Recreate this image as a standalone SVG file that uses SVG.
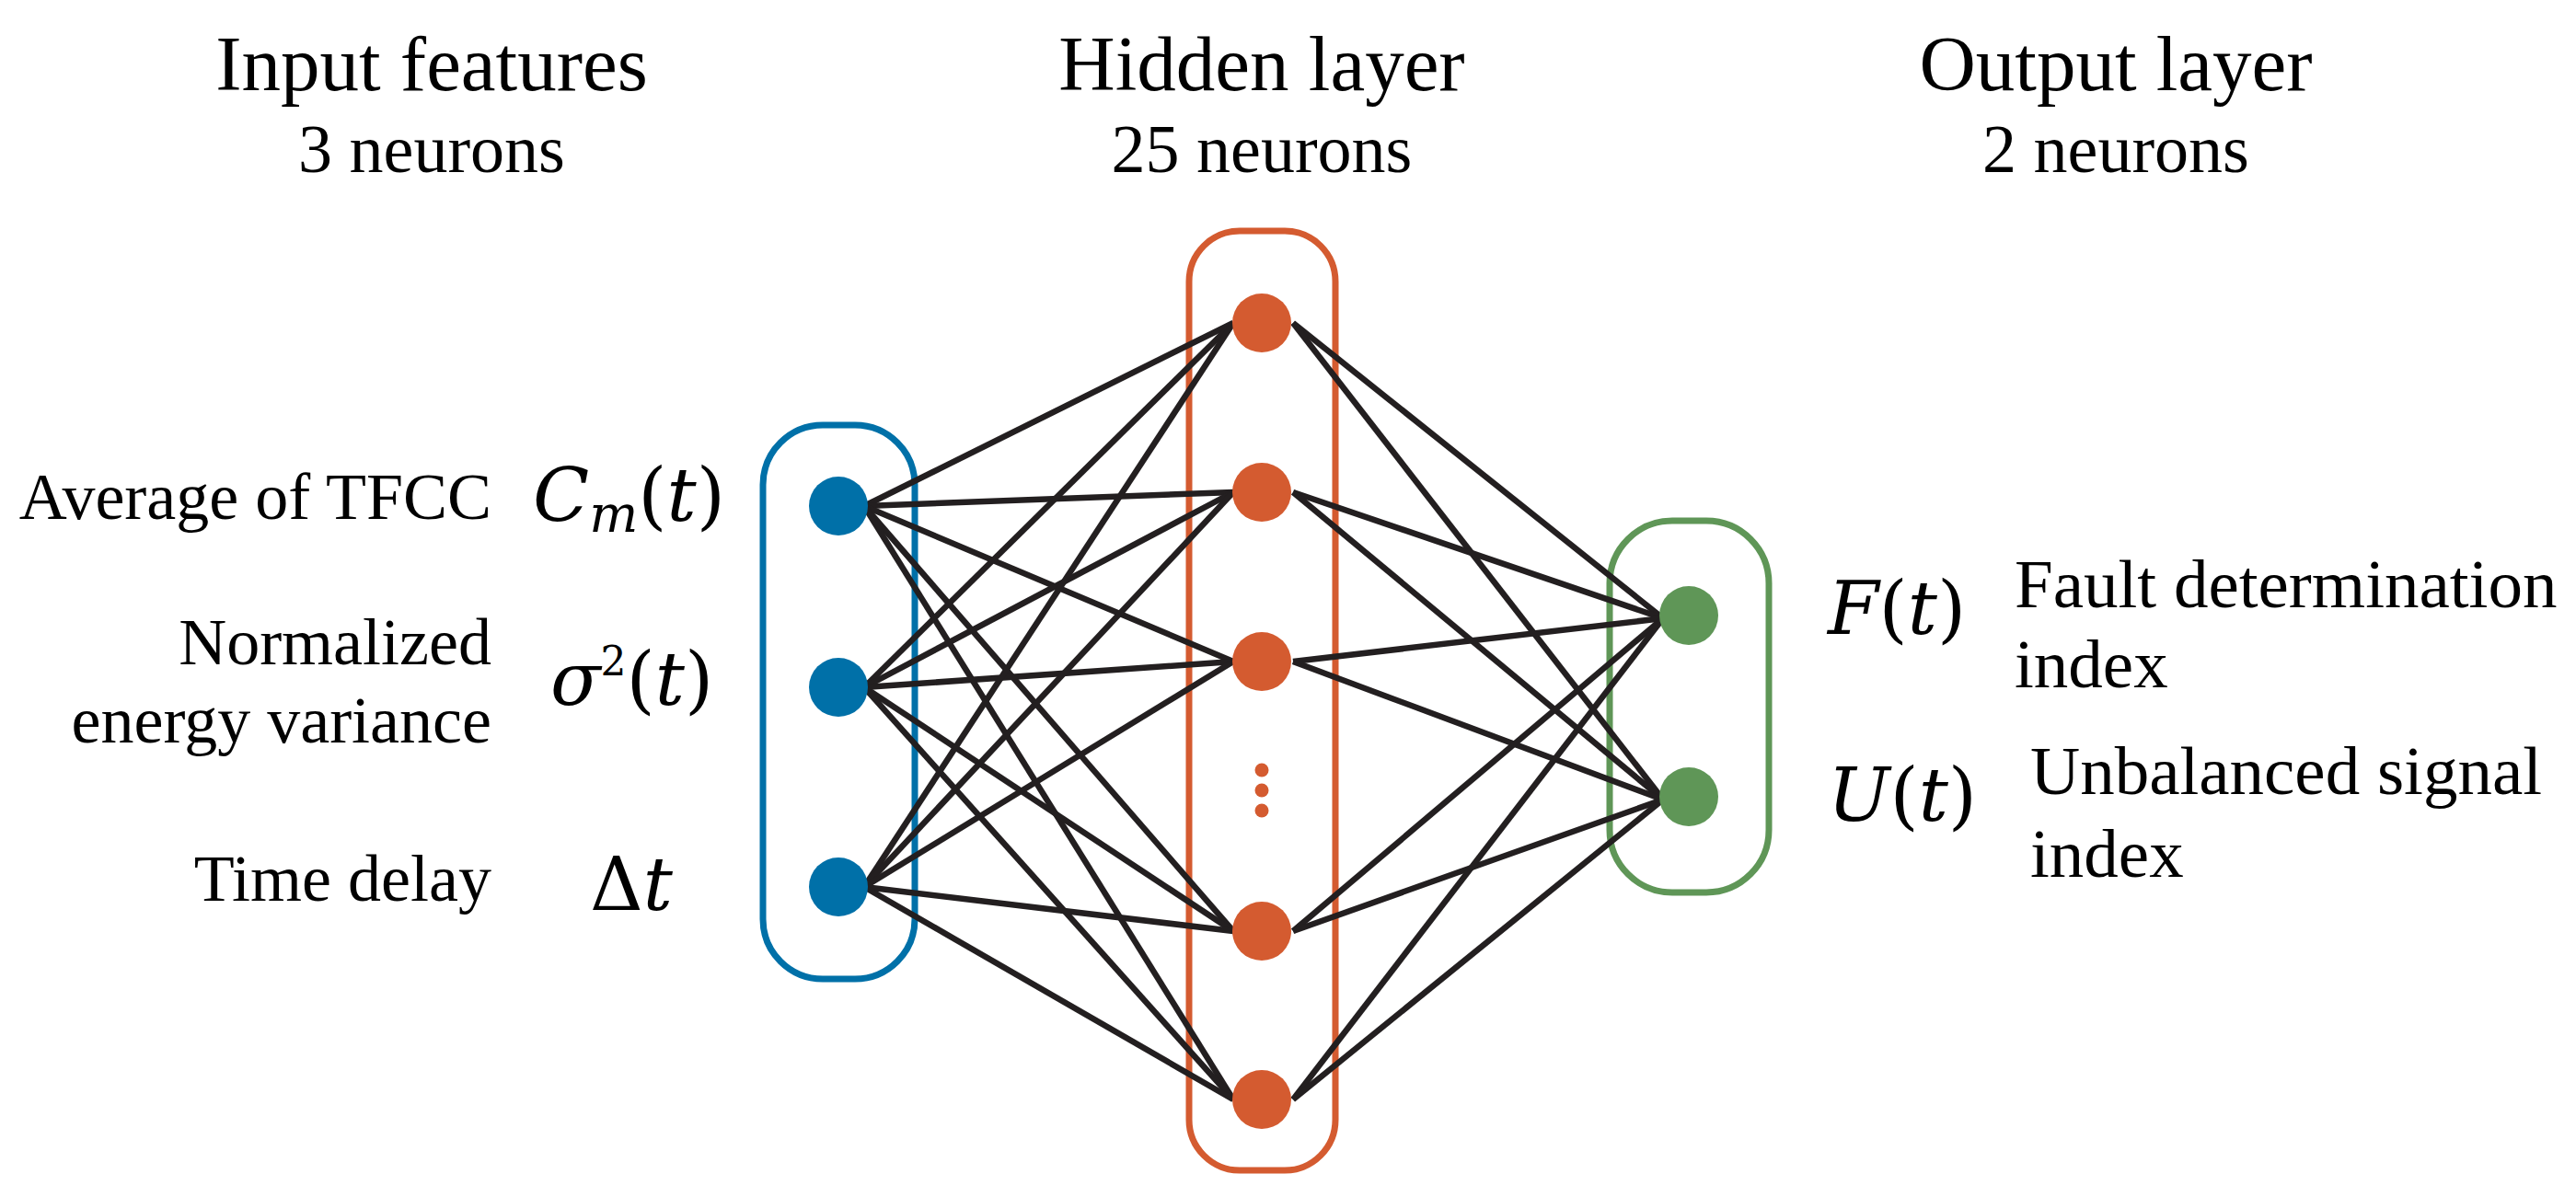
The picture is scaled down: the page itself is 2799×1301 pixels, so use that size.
<svg xmlns="http://www.w3.org/2000/svg" width="2799" height="1301" viewBox="0 0 2799 1301">
<style>
.t{font-family:"Liberation Serif","Times New Roman","DejaVu Serif",serif;fill:#000}
.h{font-size:85px;text-anchor:middle}
.s{font-size:74px;text-anchor:middle}
.l{font-size:72px}
.r{font-size:75px}
.m{font-family:"DejaVu Serif","Liberation Serif",serif;font-style:italic;font-size:80px;fill:#000}
.c line{stroke:#231f20;stroke-width:6.5}
</style>
<rect width="2799" height="1301" fill="#fff"/>
<text class="t h" x="469" y="98">Input features</text>
<text class="t s" x="469" y="187">3 neurons</text>
<text class="t h" x="1371" y="98">Hidden layer</text>
<text class="t s" x="1371" y="187">25 neurons</text>
<text class="t h" x="2299" y="98">Output layer</text>
<text class="t s" x="2299" y="187">2 neurons</text>
<g text-anchor="end">
<text class="t l" x="534" y="564">Average of TFCC</text>
<text class="t l" x="534" y="722">Normalized</text>
<text class="t l" x="534" y="807">energy variance</text>
<text class="t l" x="534" y="979">Time delay</text>
</g>
<text class="m" x="579" y="566">C<tspan font-size="56" dy="12">m</tspan><tspan dy="-12" font-style="normal">(</tspan>t<tspan font-style="normal">)</tspan></text>
<text class="m" x="598" y="766">σ<tspan font-size="44" dy="-32" font-style="normal">2</tspan><tspan dy="32" font-style="normal">(</tspan>t<tspan font-style="normal">)</tspan></text>
<text class="m" x="641" y="989"><tspan font-style="normal">Δ</tspan>t</text>
<text class="m" x="1986" y="689">F<tspan font-style="normal">(</tspan>t<tspan font-style="normal">)</tspan></text>
<text class="m" x="1986" y="892">U<tspan font-style="normal">(</tspan>t<tspan font-style="normal">)</tspan></text>
<text class="t r" x="2189" y="660">Fault determination</text>
<text class="t r" x="2189" y="747">index</text>
<text class="t r" x="2206" y="863">Unbalanced signal</text>
<text class="t r" x="2206" y="953">index</text>
<g id="boxes" fill="none" stroke-width="7">
<rect x="829" y="462" width="165" height="602" rx="65" stroke="#0070a8"/>
<rect x="1292" y="251" width="159" height="1021" rx="55" stroke="#d45b30"/>
<rect x="1749" y="566" width="173" height="404" rx="68" stroke="#5f9657"/>
</g>
<g id="connectors" class="c">
<line x1="939" y1="550" x2="1340" y2="351"/><line x1="939" y1="550" x2="1340" y2="535"/><line x1="939" y1="550" x2="1340" y2="719"/><line x1="939" y1="550" x2="1340" y2="1012"/><line x1="939" y1="550" x2="1340" y2="1195"/>
<line x1="939" y1="747" x2="1340" y2="351"/><line x1="939" y1="747" x2="1340" y2="535"/><line x1="939" y1="747" x2="1340" y2="719"/><line x1="939" y1="747" x2="1340" y2="1012"/><line x1="939" y1="747" x2="1340" y2="1195"/>
<line x1="939" y1="964" x2="1340" y2="351"/><line x1="939" y1="964" x2="1340" y2="535"/><line x1="939" y1="964" x2="1340" y2="719"/><line x1="939" y1="964" x2="1340" y2="1012"/><line x1="939" y1="964" x2="1340" y2="1195"/>
<line x1="1405" y1="351" x2="1807" y2="672"/><line x1="1405" y1="351" x2="1807" y2="869"/>
<line x1="1405" y1="535" x2="1807" y2="672"/><line x1="1405" y1="535" x2="1807" y2="869"/>
<line x1="1405" y1="719" x2="1807" y2="672"/><line x1="1405" y1="719" x2="1807" y2="869"/>
<line x1="1405" y1="1012" x2="1807" y2="672"/><line x1="1405" y1="1012" x2="1807" y2="869"/>
<line x1="1405" y1="1195" x2="1807" y2="672"/><line x1="1405" y1="1195" x2="1807" y2="869"/>
</g>
<g id="input" fill="#0070a8">
<circle id="in1" cx="911" cy="550" r="32"/>
<circle id="in2" cx="911" cy="747" r="32"/>
<circle id="in3" cx="911" cy="964" r="32"/>
</g>
<g id="hidden" fill="#d45b30">
<circle id="h1" cx="1371" cy="351" r="32"/>
<circle id="h2" cx="1371" cy="535" r="32"/>
<circle id="h3" cx="1371" cy="719" r="32"/>
<circle id="h4" cx="1371" cy="1012" r="32"/>
<circle id="h5" cx="1371" cy="1195" r="32"/>
<circle cx="1371" cy="837" r="7.5"/><circle cx="1371" cy="859" r="7.5"/><circle cx="1371" cy="881" r="7.5"/>
</g>
<g id="output" fill="#5f9657">
<circle id="o1" cx="1835" cy="669" r="32"/>
<circle id="o2" cx="1835" cy="866" r="32"/>
</g>
</svg>
